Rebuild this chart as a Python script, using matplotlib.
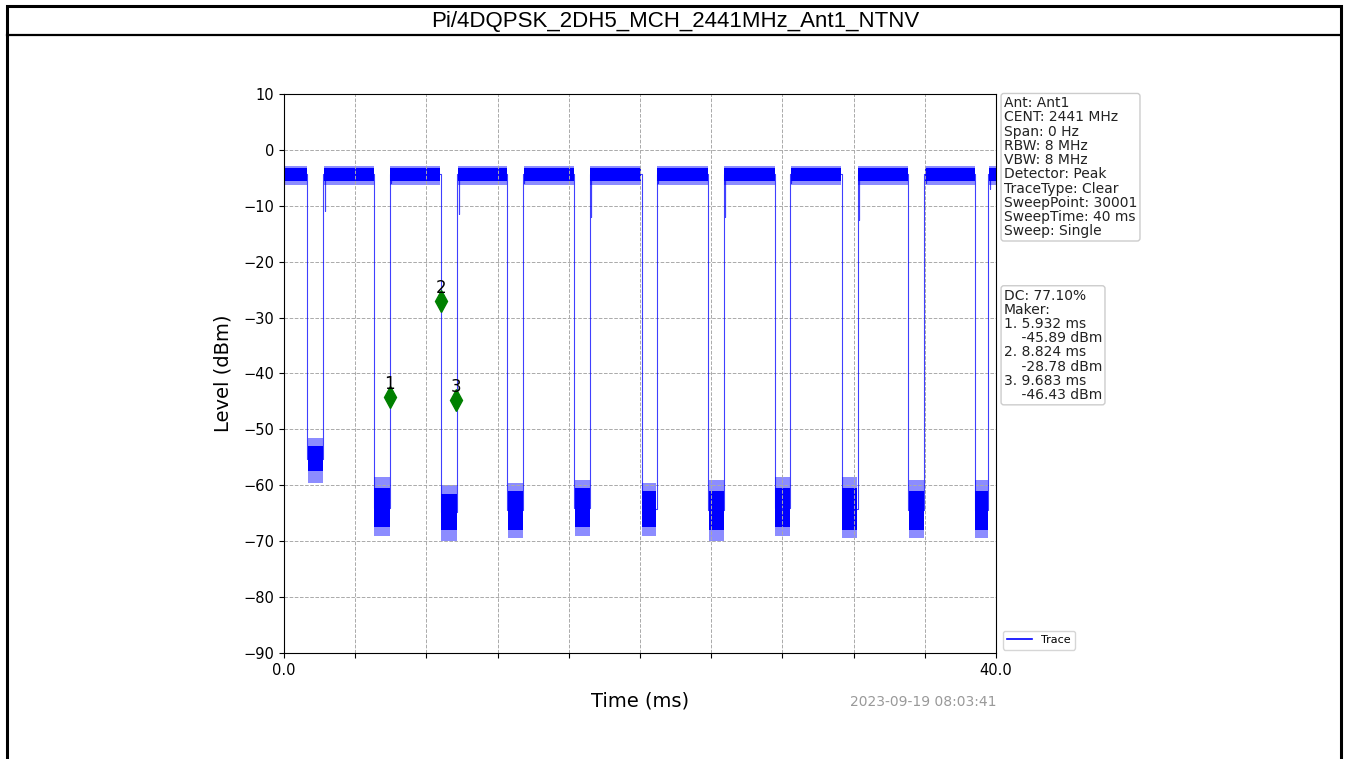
import matplotlib.pyplot as plt
from matplotlib.patches import Rectangle
from matplotlib.lines import Line2D

title = "Pi/4DQPSK_2DH5_MCH_2441MHz_Ant1_NTNV"
stamp = "2023-09-19 08:03:41"

# pulse edges (ms)
fall_ms = [1.31, 5.06, 8.80, 12.54, 16.31, 20.10, 23.84, 27.58, 31.33, 35.07, 38.82]
rise_ms = [2.21, 5.96, 9.74, 13.44, 17.19, 20.94, 24.72, 28.44, 32.23, 35.97, 39.57]
# short dip just after each rising edge (dBm)
dip_level = [-11.0, -6.0, -11.5, -6.0, -12.0, -6.0, -12.0, -6.0, -12.5, -6.0, -7.0]

# burst (on) level band: outer spikes and dense core
high_top = -2.8
high_bottom = -6.2
high_core_top = -3.3
high_core_bottom = -5.5
high_mid = -4.3

# off level band for each gap
low_top = [-51.5, -58.5, -60.0, -59.5, -59.0, -59.5, -59.0, -58.5, -58.5, -59.0, -59.0]
low_bottom = [-59.5, -69.0, -70.0, -69.5, -69.0, -69.0, -70.0, -69.0, -69.5, -69.5, -69.5]
low_core_top = [-53.0, -60.5, -61.5, -61.0, -60.5, -61.0, -61.0, -60.5, -60.5, -61.0, -61.0]
low_core_bottom = [-57.5, -67.5, -68.0, -68.0, -67.5, -67.5, -68.0, -67.5, -68.0, -68.0, -68.0]

marker_ms = [5.932, 8.824, 9.683]
marker_dbm = [-45.89, -28.78, -46.43]
marker_shift = 1.7  # marker symbols sit a bit above the read value

info_lines = ["Ant: Ant1", "CENT: 2441 MHz", "Span: 0 Hz", "RBW: 8 MHz", "VBW: 8 MHz",
              "Detector: Peak", "TraceType: Clear", "SweepPoint: 30001",
              "SweepTime: 40 ms", "Sweep: Single"]
dc_text = "DC: 77.10%"

W, H = 1348, 759
fig = plt.figure(figsize=(W / 100, H / 100), dpi=100)
fig.patch.set_facecolor("white")

# outer frame + title bar
fig.patches.append(Rectangle((7 / W, -0.05), 1334 / W, 1.05 - 6 / H, transform=fig.transFigure,
                             fill=False, edgecolor="black", linewidth=2.2))
fig.lines.append(Line2D([7 / W, 1341 / W], [1 - 35 / H, 1 - 35 / H], transform=fig.transFigure,
                        color="black", linewidth=1.6))
fig.text(675 / W, 1 - 22 / H, title, ha="center", va="center", fontsize=16,
         family="Liberation Sans")

ax = fig.add_axes([284 / W, 1 - 653 / H, 712 / W, 559 / H])

# trace as a step line
xs = [0.0]
ys = [high_mid]
for i in range(len(fall_ms)):
    f = fall_ms[i]
    r = rise_ms[i]
    lm = (low_core_top[i] + low_core_bottom[i]) / 2
    xs += [f, f, r, r, r + 0.07, r + 0.07, r + 0.07]
    ys += [high_mid, lm, lm, high_mid, high_mid, dip_level[i], high_mid]
xs.append(40.0)
ys.append(high_mid)
ax.plot(xs, ys, color="blue", linewidth=0.8, alpha=0.75)

# noise bands
starts = [0.0] + rise_ms
ends = fall_ms + [40.0]
for s, e in zip(starts, ends):
    ax.fill_between([s + 0.02, e - 0.02], high_bottom, high_top, color="blue", alpha=0.45, linewidth=0)
    ax.fill_between([s + 0.02, e - 0.02], high_core_bottom, high_core_top, color="blue", linewidth=0)
for i in range(len(fall_ms)):
    x2 = [fall_ms[i] + 0.02, rise_ms[i] - 0.02]
    ax.fill_between(x2, low_bottom[i], low_top[i], color="blue", alpha=0.45, linewidth=0)
    ax.fill_between(x2, low_core_bottom[i], low_core_top[i], color="blue", linewidth=0)

# markers
for k in range(len(marker_ms)):
    y = marker_dbm[k] + marker_shift
    ax.plot(marker_ms[k], y, marker="d", color="green", markersize=11, linestyle="none")
    ax.annotate(str(k + 1), (marker_ms[k], y), xytext=(0, 3), textcoords="offset points",
                ha="center", va="bottom", fontsize=12)

ax.set_xlim(0, 40)
ax.set_ylim(-90, 10)
ax.set_xticks(range(0, 41, 4))
ax.set_xticklabels(["0.0"] + [""] * 9 + ["40.0"], fontsize=10.5)
ax.set_yticks(range(-90, 11, 10))
ax.tick_params(axis="y", labelsize=10.5)
ax.grid(True, linestyle="--", color="#aaaaaa", linewidth=0.7)
ax.set_xlabel("Time (ms)", fontsize=14, labelpad=10)
ax.set_ylabel("Level (dBm)", fontsize=14, labelpad=8)

box = dict(boxstyle="round,pad=0.2", facecolor="white", edgecolor="#cccccc")
ax.text(1.011, 0.996, "\n".join(info_lines), transform=ax.transAxes, ha="left", va="top",
        fontsize=10, color="#222222", bbox=box, linespacing=1.02)
mk = [dc_text, "Maker:"]
for k in range(len(marker_ms)):
    mk.append(f"{k + 1}. {marker_ms[k]:.3f} ms")
    mk.append(f"    {marker_dbm[k]:.2f} dBm")
ax.text(1.011, 0.652, "\n".join(mk), transform=ax.transAxes, ha="left", va="top",
        fontsize=10, color="#222222", bbox=box, linespacing=1.02)

trace_handle = Line2D([], [], color="blue", linewidth=1.2)
ax.legend([trace_handle], ["Trace"], loc="lower left", bbox_to_anchor=(1.005, 0.0), fontsize=8,
          borderaxespad=0.3, handlelength=2.2)
fig.text(996 / W, 1 - 702 / H, stamp, ha="right", va="center", fontsize=10, color="#999999")

fig.savefig("out.png", dpi=100)
